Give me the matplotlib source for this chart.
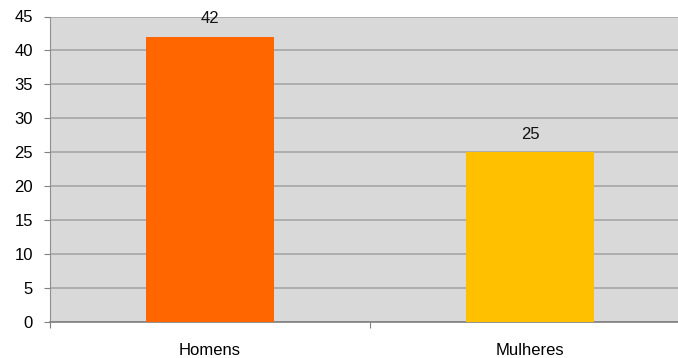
import numpy as np
import matplotlib.pyplot as plt

# contagem por sexo
categorias = ["Homens", "Mulheres"]
valores = [42, 25]
cores = ["#ff6600", "#ffc000"]

plt.rcParams['font.family'] = ['Liberation Sans', 'DejaVu Sans']

fig = plt.figure(figsize=(6.78, 3.58), dpi=100)
ax = fig.add_axes([49.5 / 678, 36 / 358, 641 / 678, 305.5 / 358])
ax.set_facecolor("#d9d9d9")

x = np.arange(len(categorias))
barras = ax.bar(x, valores, width=0.4, color=cores, zorder=3)

for b, v in zip(barras, valores):
    ax.annotate(str(v), (b.get_x() + b.get_width() / 2, v), xytext=(0, 13),
                textcoords="offset points", ha="center", va="center",
                fontsize=12, color="#111111")

ax.set_xlim(-0.5, 1.5)
ax.set_ylim(0, 45)
ax.set_yticks(range(0, 46, 5))
ax.yaxis.grid(True, color="#a6a6a6", linewidth=1.2, zorder=0)

# ticks nas divisas das categorias, rotulos no centro
ax.set_xticks([-0.5, 0.5, 1.5])
ax.set_xticklabels([])
ax.set_xticks(x, minor=True)
ax.set_xticklabels(categorias, minor=True)
ax.tick_params(axis="x", which="major", length=4, color="#808080", direction="out")
ax.tick_params(axis="x", which="minor", length=0, pad=15, labelsize=12)
ax.tick_params(axis="y", length=4, color="#808080", pad=8, labelsize=12)

for s in ["top", "right"]:
    ax.spines[s].set_visible(False)
ax.spines["left"].set_color("#909090")
ax.spines["bottom"].set_color("#808080")
ax.spines["bottom"].set_linewidth(1.2)

plt.savefig("out.png", dpi=100)
